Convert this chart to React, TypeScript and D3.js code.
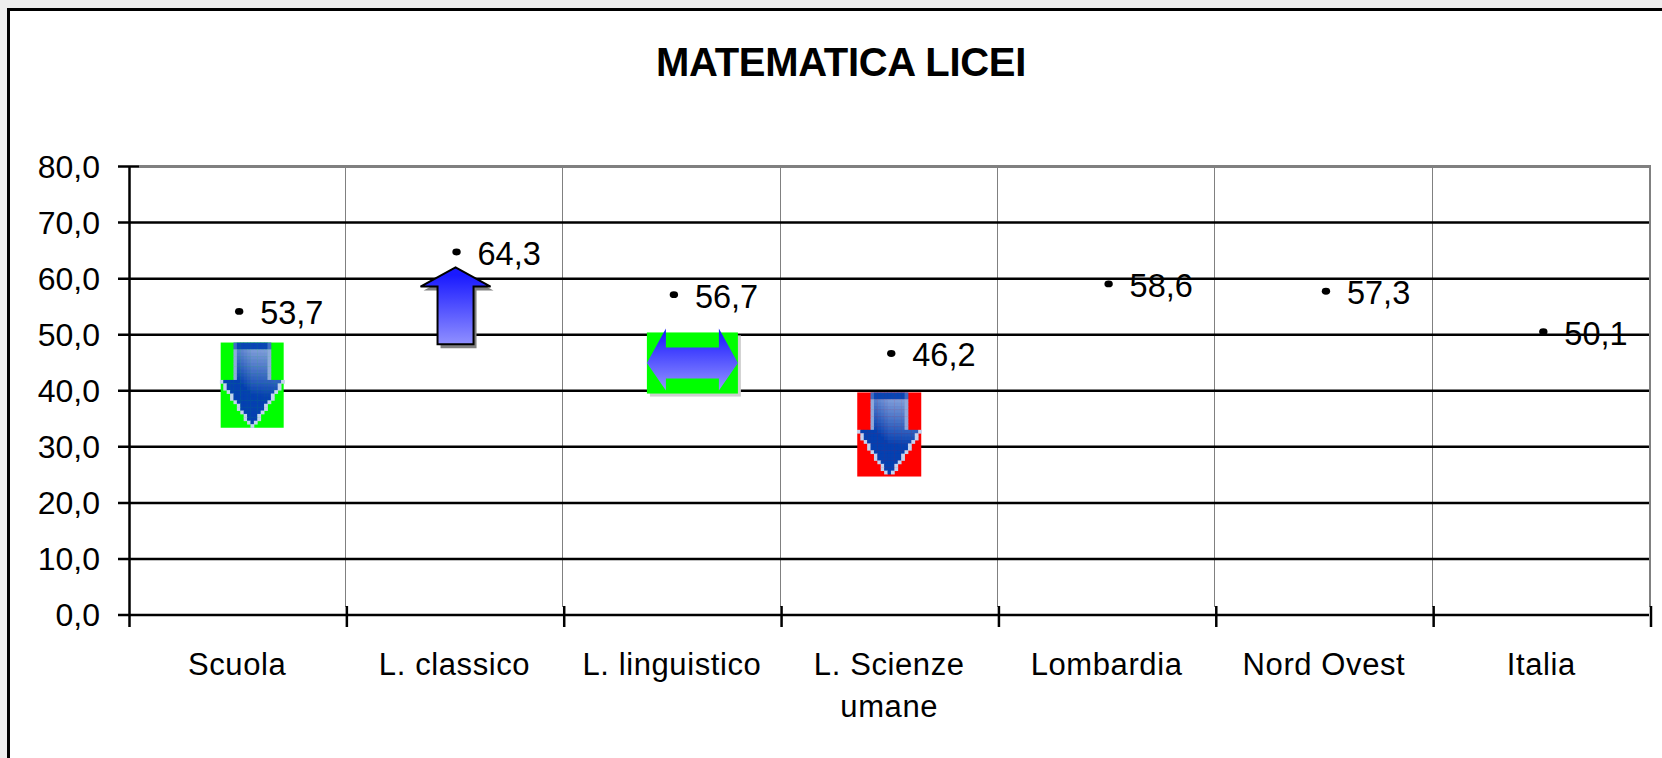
import React from "react";
import * as d3 from "d3";

const categories = ["Scuola", "L. classico", "L. linguistico", "L. Scienze|umane", "Lombardia", "Nord Ovest", "Italia"];
const values = [53.7, 64.3, 56.7, 46.2, 58.6, 57.3, 50.1];
const valueTicks = [0, 10, 20, 30, 40, 50, 60, 70, 80];
const markerCategories = ["Scuola", "L. classico", "L. linguistico", "L. Scienze|umane"];
const markerKinds = ["down", "up", "both", "down"];
const markerBacks = ["#00ff00", "none", "#00ff00", "#ff0000"];
const markerTops = [48.6, 62, 50.4, 39.7];
const markerBottoms = [33.4, 48.3, 39.5, 24.7];

const W = 1662, H = 758;
const L = 129.5, R = 1651, T = 166.5, B = 615;
const FONT = "'Liberation Sans', Arial, sans-serif";

const x = d3.scaleBand<string>().domain(categories).range([L, R]);
const y = d3.scaleLinear().domain([0, 80]).range([B, T]);
const fmt = (v: number) => v.toFixed(1).replace(".", ",");
const shade = d3.interpolateRgb("#0540b0", "#8fa9de");

function Down({ cx, top, bottom, halfW, back }: any) {
  const h = bottom - top;
  const s = 3.4;
  const shaft = halfW * 0.6;
  const neck = h * 0.45;
  const inside = (u: number, v: number) => {
    if (v < 0 || v > h) return false;
    if (v < neck) return Math.abs(u) < shaft;
    return Math.abs(u) < halfW * (1 - (v - neck) / (h - neck)) + s / 2;
  };
  const cells: React.ReactNode[] = [];
  const cols = Math.ceil(halfW / s);
  const rows = Math.floor(h / s);
  for (let r = 0; r < rows; r++) {
    for (let c = -cols; c <= cols; c++) {
      const u = c * s, v = (r + 0.5) * s;
      if (!inside(u, v)) continue;
      const edge = !inside(u - s, v) || !inside(u + s, v) || !inside(u, v + s);
      let fill: string;
      if (r < 2 && Math.abs(u) < shaft) fill = edge ? "#3f6cc4" : "#0a46b4";
      else if (edge) fill = v < neck ? "#8ea9dc" : "#c4d3ef";
      else {
        const t = Math.max(0, Math.min(1, 1.0 - v / (h * 0.62) + u / (shaft * 5) - Math.abs(u) / (shaft * 6)));
        fill = shade(t);
      }
      cells.push(<rect key={r + "_" + c} x={cx + u - s / 2} y={top + r * s} width={s + 0.4} height={s + 0.4} fill={fill} />);
    }
  }
  return (
    <g>
      <rect x={cx - halfW} y={top} width={halfW * 2} height={h} fill={back} />
      {cells}
    </g>
  );
}

function Up({ cx, top, bottom }: any) {
  const h = bottom - top;
  const hw = 35, sw = 18;
  const neck = top + h * 0.25;
  const pts: [number, number][] = [
    [cx, top], [cx + hw, neck], [cx + sw, neck], [cx + sw, bottom],
    [cx - sw, bottom], [cx - sw, neck], [cx - hw, neck],
  ];
  const d = d3.line()(pts) + "Z";
  return (
    <g>
      <path d={d} transform="translate(3,4)" fill="#808080" />
      <path d={d} fill="url(#upGrad)" stroke="#000" strokeWidth={2} />
    </g>
  );
}

function Both({ left, right, top, bottom, back }: any) {
  const cy = (top + bottom) / 2;
  const head = 19;
  const sh = 15.5;
  const pts: [number, number][] = [
    [left, cy], [left + head, top - 4], [left + head, cy - sh], [right - head, cy - sh],
    [right - head, top - 4], [right, cy], [right - head, bottom - 3], [right - head, cy + sh],
    [left + head, cy + sh], [left + head, bottom - 3],
  ];
  return (
    <g>
      <rect x={left + 3} y={top + 3} width={right - left} height={bottom - top} fill="#cfcfcf" />
      <rect x={left} y={top} width={right - left} height={bottom - top} fill={back} />
      <path d={d3.line()(pts) + "Z"} fill="url(#bothGrad)" />
    </g>
  );
}

export default function App() {
  const band = x.bandwidth();
  const edges = categories.map((c) => x(c)!).concat([R]);
  return (
    <svg width={W} height={H} style={{ position: "absolute", left: 0, top: 0, display: "block" }} fontFamily={FONT}>
      <defs>
        <linearGradient id="upGrad" x1="0" y1="0" x2="0" y2="1">
          <stop offset="0.1" stopColor="#1a1aff" />
          <stop offset="1" stopColor="#9090ff" />
        </linearGradient>
        <linearGradient id="bothGrad" x1="0" y1="0" x2="0" y2="1">
          <stop offset="0.1" stopColor="#2020ff" />
          <stop offset="1" stopColor="#9494ff" />
        </linearGradient>
      </defs>
      <rect width={W} height={H} fill="#eeeeee" />
      <rect x={8.5} y={9.5} width={W} height={H} fill="#fff" stroke="#000" strokeWidth={3} />

      <text x={841} y={76} textAnchor="middle" fontWeight="bold" fontSize={40} letterSpacing={-0.3}>MATEMATICA LICEI</text>

      {/* vertical gridlines */}
      {edges.slice(1).map((e, i) => {
        const px = Math.round(e) - (i === 6 ? 1 : 1.5);
        return (
          <line key={i} x1={px} x2={px} y1={T} y2={B - 8}
            stroke={i === 6 ? "#808080" : "#000"} strokeWidth={i === 6 ? 2 : 1} strokeDasharray={i === 6 ? undefined : "1 1"} />
        );
      })}
      {/* horizontal gridlines */}
      {valueTicks.map((t) => (
        <g key={t}>
          <line x1={118} x2={t === 80 ? 139 : R - 2} y1={y(t)} y2={y(t)} stroke="#000" strokeWidth={2.5} />
          {t === 80 && <line x1={139} x2={R} y1={y(t)} y2={y(t)} stroke="#808080" strokeWidth={3} />}
          <text x={100} y={y(t) + 11} textAnchor="end" fontSize={32}>{fmt(t)}</text>
        </g>
      ))}
      {/* axis */}
      <line x1={L} x2={L} y1={T} y2={627} stroke="#000" strokeWidth={2.5} />
      {edges.slice(1).map((e, i) => (
        <line key={i} x1={e} x2={e} y1={B - 9} y2={627} stroke="#000" strokeWidth={2.5} />
      ))}

      {/* markers */}
      {markerCategories.map((c, i) => {
        const cx = x(c)! + band / 2;
        const top = y(markerTops[i]);
        const bottom = y(markerBottoms[i]);
        if (markerKinds[i] === "up") return <Up key={c} cx={cx} top={top} bottom={bottom} />;
        if (markerKinds[i] === "both") return <Both key={c} left={cx - 26} right={cx + 65} top={top} bottom={bottom} back={markerBacks[i]} />;
        return <Down key={c} cx={cx + (i === 0 ? 14 : -1)} top={top} bottom={bottom} halfW={i === 0 ? 31.5 : 32} back={markerBacks[i]} />;
      })}

      {/* points and labels */}
      {categories.map((c, i) => {
        const cx = x(c)! + band / 2;
        const cy = y(values[i]);
        return (
          <g key={c}>
            <ellipse cx={cx + 1} cy={cy - 2.5} rx={4.2} ry={3.4} fill="#000" />
            <text x={cx + 22} y={cy + 10.5} fontSize={32.5}>{fmt(values[i])}</text>
          </g>
        );
      })}

      {/* category labels */}
      {categories.map((c) => {
        const cx = x(c)! + band / 2;
        return c.split("|").map((line, k) => (
          <text key={line} x={cx - 1} y={675 + k * 42} textAnchor="middle" fontSize={31} letterSpacing={0.6}>{line}</text>
        ));
      })}
    </svg>
  );
}
